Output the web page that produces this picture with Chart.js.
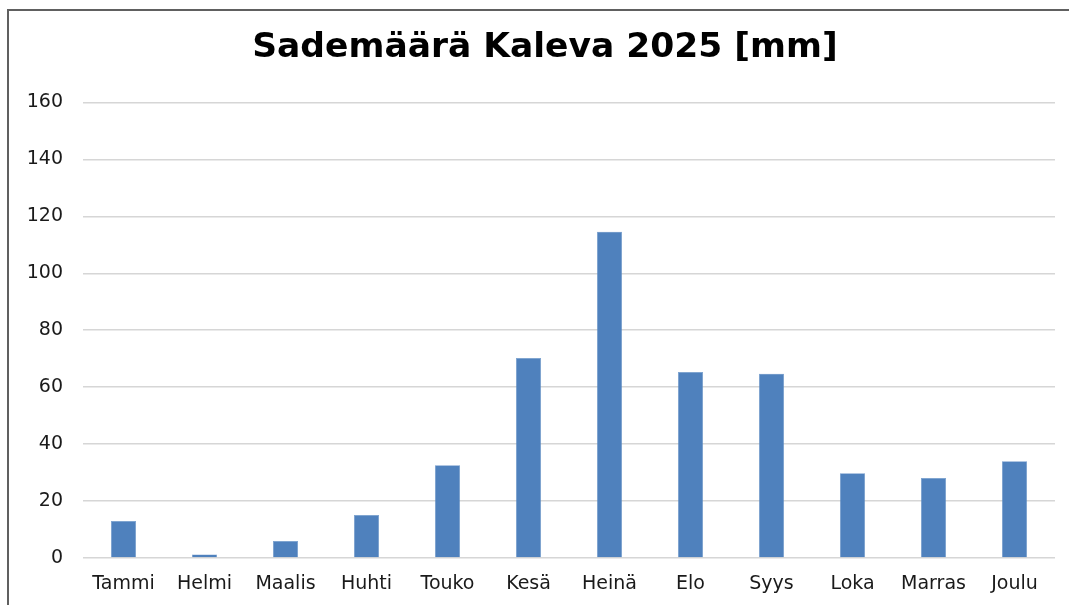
<!DOCTYPE html>
<html>
<head>
<meta charset="utf-8">
<script src="https://cdn.jsdelivr.net/npm/chart.js@4/dist/chart.umd.min.js"></script>
<style>
  html, body { margin: 0; padding: 0; background: #fff; overflow: hidden; }
  #frame { position: absolute; left: 7px; top: 9px; width: 1076px; height: 596px; border-left: 2px solid #606060; border-top: 2px solid #606060; box-sizing: border-box; pointer-events: none; z-index: 2; }
  #wrap { position: absolute; left: 7px; top: 9px; width: 1076px; height: 596px; }
</style>
</head>
<body>
<div id="wrap"><canvas id="c"></canvas></div>
<div id="frame"></div>
<script>
const titleText = 'Sademäärä Kaleva 2025 [mm]';
const months = ['Tammi','Helmi','Maalis','Huhti','Touko','Kesä','Heinä','Elo','Syys','Loka','Marras','Joulu'];
const rainfall = [13.0, 1.2, 6.0, 15.1, 32.6, 70.2, 114.6, 65.3, 64.7, 29.8, 28.1, 34.0];
const yMin = 0, yMax = 160, yStep = 20;

const FONT = "'DejaVu Sans', sans-serif";
new Chart(document.getElementById('c'), {
  type: 'bar',
  data: {
    labels: months,
    datasets: [{
      label: 'Sademäärä',
      data: rainfall,
      yAxisID: 'y',
      backgroundColor: '#4f81bd',
      borderColor: '#6a95c9',
      borderWidth: 0.5,
      categoryPercentage: 1.0,
      barPercentage: 0.31
    }]
  },
  options: {
    responsive: true,
    maintainAspectRatio: false,
    animation: false,
    layout: { padding: 0 },
    plugins: {
      legend: { display: false },
      tooltip: { enabled: false },
      title: {
        display: true,
        text: titleText,
        color: '#000',
        font: { family: FONT, size: 34.5, weight: 'bold' },
        padding: { top: 18, bottom: 34 }
      }
    },
    scales: {
      x: {
        grid: { display: false },
        border: { display: false },
        ticks: { color: '#1a1a1a', font: { family: FONT, size: 19 }, padding: 7, maxRotation: 0 },
        afterFit: s => { s.height = 47; }
      },
      y: {
        min: yMin, max: yMax,
        ticks: { stepSize: yStep, color: '#1a1a1a', font: { family: FONT, size: 19 }, padding: 20 },
        grid: { color: '#d6d6d6', lineWidth: 1.5, drawTicks: false },
        border: { display: false },
        afterFit: s => { s.width = 76; }
      },
      yRight: {
        position: 'right',
        display: true,
        grid: { display: false },
        border: { display: false },
        ticks: { display: false },
        afterFit: s => { s.width = 28; }
      }
    }
  }
});
</script>
</body>
</html>
